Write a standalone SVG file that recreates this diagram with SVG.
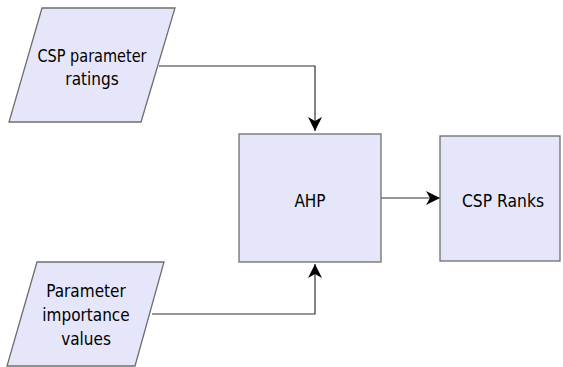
<svg xmlns="http://www.w3.org/2000/svg" width="563" height="367" viewBox="0 0 563 367">
<defs>
<style>
.shape{fill:#e6e6fa;stroke:#6e6e6e;stroke-width:1.3}
.lbl{font-family:"DejaVu Sans Condensed","DejaVu Sans",sans-serif;font-size:17px;fill:#000;text-anchor:middle}
.conn{fill:none;stroke:#333;stroke-width:1.2}
</style>
<marker id="arr" viewBox="0 0 14 14" refX="14" refY="7" markerWidth="14" markerHeight="14" markerUnits="userSpaceOnUse" orient="auto">
<path d="M0,0 L14,7 L0,14 L4,7 Z" fill="#000"/>
</marker>
</defs>
<rect width="563" height="367" fill="#fff"/>
<g id="connectors">
<path class="conn" d="M159,66 H315 V131" marker-end="url(#arr)"/>
<path class="conn" d="M152,314 H315 V264" marker-end="url(#arr)"/>
<path class="conn" d="M381,198 H440" marker-end="url(#arr)"/>
</g>
<g id="csp-ratings">
<polygon class="shape" points="42,8 175,8 141,122 9,122"/>
<text class="lbl" x="92" y="62" textLength="109" lengthAdjust="spacingAndGlyphs">CSP parameter</text>
<text class="lbl" x="92" y="85">ratings</text>
</g>
<g id="ahp">
<rect class="shape" x="239" y="134" width="142" height="128"/>
<text class="lbl" x="310" y="207">AHP</text>
</g>
<g id="csp-ranks">
<rect class="shape" x="440" y="136" width="120" height="125"/>
<text class="lbl" x="503" y="207" textLength="82" lengthAdjust="spacingAndGlyphs">CSP Ranks</text>
</g>
<g id="param-importance">
<polygon class="shape" points="37,262 164,262 135,366 7,366"/>
<text class="lbl" x="86" y="297">Parameter</text>
<text class="lbl" x="86" y="321">importance</text>
<text class="lbl" x="86" y="345">values</text>
</g>
</svg>
